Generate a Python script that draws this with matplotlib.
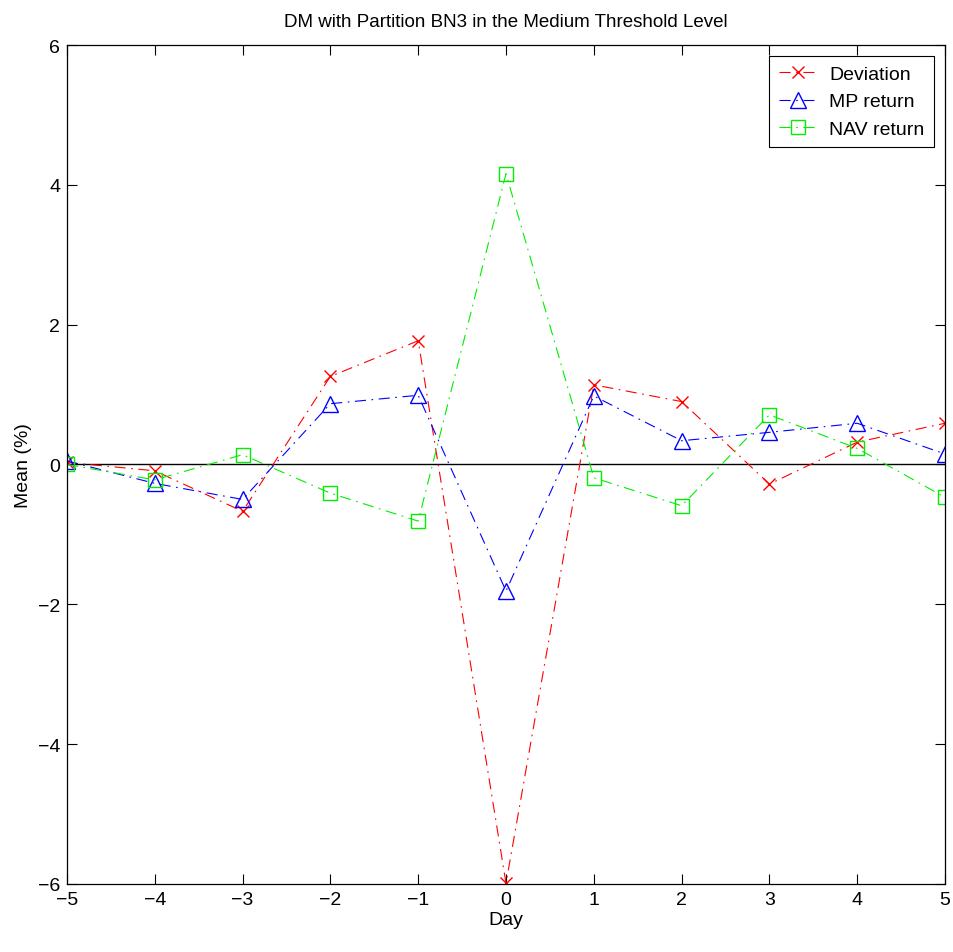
import matplotlib
matplotlib.use("Agg")
import matplotlib.pyplot as plt

plt.rcParams['font.family'] = ['Liberation Sans', 'DejaVu Sans']

days = [-5, -4, -3, -2, -1, 0, 1, 2, 3, 4, 5]
deviation = [0.03, -0.09, -0.67, 1.26, 1.77, -5.99, 1.14, 0.90, -0.28, 0.32, 0.59]
mp_return = [0.05, -0.27, -0.50, 0.87, 0.99, -1.81, 0.98, 0.34, 0.46, 0.59, 0.15]
nav_return = [0.00, -0.22, 0.14, -0.41, -0.81, 4.16, -0.19, -0.59, 0.71, 0.23, -0.47]

dashdot = (0, (10, 5, 1.5, 5))

fig = plt.figure(figsize=(9.54, 9.53), dpi=100)
ax = fig.add_axes([0.0702, 0.0714, 0.9204, 0.8803])

ax.plot(days, deviation, color='red', linestyle=dashdot, linewidth=0.8,
        marker='x', markersize=8, markeredgewidth=1.0, label='Deviation')
ax.plot(days, mp_return, color='blue', linestyle=dashdot, linewidth=0.8,
        marker='^', markersize=11, markerfacecolor='none', markeredgewidth=1.0,
        label='MP return')
ax.plot(days, nav_return, color='#00ee00', linestyle=dashdot, linewidth=0.8,
        marker='s', markersize=10, markerfacecolor='none', markeredgewidth=1.0,
        label='NAV return')
ax.axhline(0, color='black', linewidth=1.0, zorder=1)

ax.set_xlim(-5, 5)
ax.set_ylim(-6, 6)
ax.set_xticks(range(-5, 6))
ax.set_yticks(range(-6, 7, 2))
ax.set_xticklabels(['\u2212' + str(-v) if v < 0 else str(v) for v in range(-5, 6)])
ax.set_yticklabels(['\u2212' + str(-v) if v < 0 else str(v) for v in range(-6, 7, 2)])
ax.tick_params(direction='in', top=True, right=True, length=7, width=0.8,
               labelsize=14, pad=5)
for s in ax.spines.values():
    s.set_linewidth(0.9)

ax.set_xlabel('Day', fontsize=14, labelpad=2)
ax.set_ylabel('Mean (%)', fontsize=14, labelpad=4)
ax.set_title('DM with Partition BN3 in the Medium Threshold Level', fontsize=13.5, pad=14)

leg = ax.legend(loc='upper right', fontsize=14, fancybox=False, edgecolor='black',
                framealpha=1, borderpad=0.5, handlelength=2.0, labelspacing=0.5,
                handletextpad=0.6, borderaxespad=0.55)
leg.get_frame().set_linewidth(0.8)

fig.savefig('out.png', dpi=100)
